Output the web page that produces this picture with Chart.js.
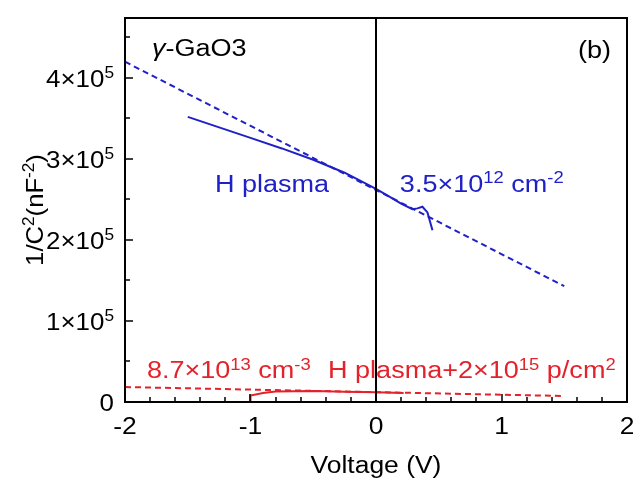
<!DOCTYPE html>
<html lang="en">
<head>
<meta charset="UTF-8">
<title>1/C2 vs Voltage</title>
<script src="https://cdn.jsdelivr.net/npm/chart.js"></script>
<style>
  body { margin: 0; background: #fff; }
</style>
</head>
<body>
<canvas id="cv" width="633" height="480"></canvas>
<script>
// values: voltage (V) and 1/C^2 (nF^-2)
const blueV = [-1.5, -1.25, -1.0, -0.75, -0.5, -0.25, 0, 0.1, 0.2, 0.29, 0.33, 0.37, 0.41, 0.45];
const blueC = [3.52e5, 3.39e5, 3.26e5, 3.13e5, 2.99e5, 2.83e5, 2.63e5, 2.54e5, 2.45e5, 2.38e5, 2.39e5, 2.41e5, 2.34e5, 2.12e5];
const blueFitV = [-2, 1.5];
const blueFitC = [4.2e5, 1.43e5];

const redV = [-1.0, -1.0, -0.9, -0.8, -0.5, -0.25, 0, 0.22];
const redC = [0, 0.08e5, 0.11e5, 0.13e5, 0.135e5, 0.128e5, 0.12e5, 0.112e5];
const redFitV = [-2, 1.5];
const redFitC = [0.185e5, 0.074e5];

const xTicks = [-2, -1, 0, 1, 2];
const xTickLabels = ['-2', '-1', '0', '1', '2'];
const yTicks = [0, 1e5, 2e5, 3e5, 4e5];
const yTickLabels = ['0', '1×10^{5}', '2×10^{5}', '3×10^{5}', '4×10^{5}'];
const yMax = 4.74e5;

const BLUE = '#2020c8';
const RED = '#e3222b';
const FONT = '"Liberation Sans", Arial, sans-serif';
const STRETCH = 1.15; // the figure's lettering is wider than plain Arial

// text notes placed in data units
const notes = [
  { text: '*{γ}-GaO3', x: -1.785, y: 4.38e5, color: '#000', align: 'left' },
  { text: '(b)', x: 1.873, y: 4.35e5, color: '#000', align: 'right' },
  { text: 'H plasma', x: -1.283, y: 2.69e5, color: BLUE, align: 'left' },
  { text: '3.5×10^{12} cm^{-2}', x: 0.19, y: 2.70e5, color: BLUE, align: 'left' },
  { text: '8.7×10^{13} cm^{-3}', x: -1.825, y: 0.395e5, color: RED, align: 'left' },
  { text: 'H plasma+2×10^{15} p/cm^{2}', x: -0.382, y: 0.395e5, color: RED, align: 'left' }
];

function pts(xs, ys) {
  return xs.map((x, i) => ({ x: x, y: ys[i] }));
}

// split "a^{b}c*{d}" into pieces: normal, superscript, italic
function parseRich(str) {
  const out = [];
  const re = /\^\{([^}]*)\}|\*\{([^}]*)\}/g;
  let last = 0, m;
  while ((m = re.exec(str)) !== null) {
    if (m.index > last) out.push({ t: str.slice(last, m.index), k: 'n' });
    if (m[1] !== undefined) out.push({ t: m[1], k: 's' });
    else out.push({ t: m[2], k: 'i' });
    last = re.lastIndex;
  }
  if (last < str.length) out.push({ t: str.slice(last), k: 'n' });
  return out;
}

function segFont(k, size) {
  if (k === 's') return Math.round(size * 0.68) + 'px ' + FONT;
  if (k === 'i') return 'italic ' + size + 'px ' + FONT;
  return size + 'px ' + FONT;
}

// draws rich text, y is the middle of the capital letters
function drawRich(ctx, str, x, y, size, align, color, sx) {
  sx = sx || STRETCH;
  const segs = parseRich(str);
  let w = 0;
  segs.forEach(s => { ctx.font = segFont(s.k, size); s.w = ctx.measureText(s.t).width; w += s.w; });
  let start = x;
  if (align === 'right') start = x - w * sx;
  else if (align === 'center') start = x - w * sx / 2;
  ctx.save();
  ctx.translate(start, y + size * 0.358);
  ctx.scale(sx, 1);
  ctx.fillStyle = color;
  ctx.textAlign = 'left';
  ctx.textBaseline = 'alphabetic';
  let cx = 0;
  segs.forEach(s => {
    ctx.font = segFont(s.k, size);
    ctx.fillText(s.t, cx, s.k === 's' ? -size * 0.36 : 0);
    cx += s.w;
  });
  ctx.restore();
}

const framePlugin = {
  id: 'frame',
  afterDatasetsDraw(chart) {
    const ctx = chart.ctx;
    const a = chart.chartArea;
    const xs = chart.scales.x, ys = chart.scales.y;
    ctx.save();
    ctx.strokeStyle = '#000';
    ctx.lineWidth = 2;
    ctx.strokeRect(a.left, a.top, a.right - a.left, a.bottom - a.top);

    // ticks pointing inward, minor every 0.2 V and 0.5e5
    ctx.lineWidth = 1.5;
    ctx.beginPath();
    for (let v = -2; v <= 2.0001; v += 0.2) {
      const px = Math.round(xs.getPixelForValue(v));
      const major = Math.abs(v - Math.round(v)) < 1e-6;
      ctx.moveTo(px, a.bottom);
      ctx.lineTo(px, a.bottom - (major ? 8 : 5));
    }
    for (let v = 0; v <= yMax; v += 0.5e5) {
      const py = Math.round(ys.getPixelForValue(v));
      const major = Math.abs(v / 1e5 - Math.round(v / 1e5)) < 1e-6;
      ctx.moveTo(a.left, py);
      ctx.lineTo(a.left + (major ? 8 : 5), py);
    }
    ctx.stroke();
    ctx.restore();

    // tick labels
    xTicks.forEach((v, i) => {
      drawRich(ctx, xTickLabels[i], xs.getPixelForValue(v), a.bottom + 24, 23, 'center', '#000');
    });
    yTicks.forEach((v, i) => {
      drawRich(ctx, yTickLabels[i], a.left - 11, ys.getPixelForValue(v), 24, 'right', '#000', 1.08);
    });

    // axis titles
    drawRich(ctx, 'Voltage (V)', (a.left + a.right) / 2, a.bottom + 63, 23, 'center', '#000');
    ctx.save();
    ctx.translate(34, (a.top + a.bottom) / 2);
    ctx.rotate(-Math.PI / 2);
    drawRich(ctx, '1/C^{2}(nF^{-2})', 0, 0, 24, 'center', '#000', 1.07);
    ctx.restore();

    notes.forEach(n => {
      drawRich(ctx, n.text, xs.getPixelForValue(n.x), ys.getPixelForValue(n.y), 23.5, n.align, n.color);
    });
  }
};

const ctx = document.getElementById('cv').getContext('2d');
const chart = new Chart(ctx, {
  type: 'scatter',
  data: {
    datasets: [
      { data: pts([0, 0], [0, yMax]), borderColor: '#000', borderWidth: 2 },
      { data: pts(blueFitV, blueFitC), borderColor: BLUE, borderWidth: 2, borderDash: [6, 4] },
      { data: pts(blueV, blueC), borderColor: BLUE, borderWidth: 2 },
      { data: pts(redFitV, redFitC), borderColor: RED, borderWidth: 2, borderDash: [6, 4] },
      { data: pts(redV, redC), borderColor: RED, borderWidth: 2 }
    ].map(d => Object.assign(d, { showLine: true, pointRadius: 0, fill: false, tension: 0 }))
  },
  options: {
    responsive: false,
    animation: false,
    layout: { padding: { left: 125, right: 6, top: 18, bottom: 78 } },
    plugins: { legend: { display: false }, tooltip: { enabled: false } },
    scales: {
      x: { type: 'linear', display: false, min: -2, max: 2 },
      y: { type: 'linear', display: false, min: 0, max: yMax }
    }
  },
  plugins: [framePlugin]
});
</script>
</body>
</html>
